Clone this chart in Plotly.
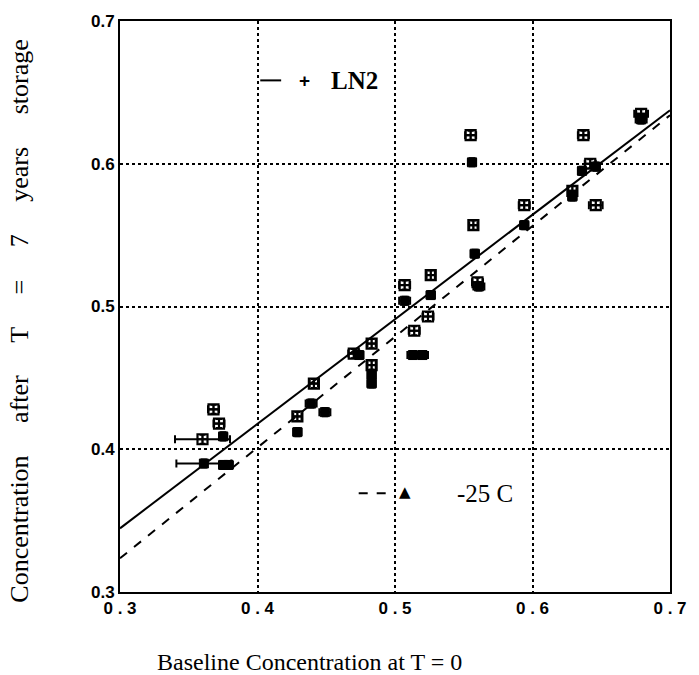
import plotly.graph_objects as go

# ---- data ----
ln2_x = [0.360, 0.368, 0.372, 0.429, 0.441, 0.470, 0.483, 0.483, 0.507, 0.526,
         0.524, 0.514, 0.555, 0.557, 0.560, 0.594, 0.629, 0.637, 0.642, 0.646, 0.679]
ln2_y = [0.407, 0.428, 0.418, 0.423, 0.446, 0.467, 0.474, 0.459, 0.515, 0.522,
         0.493, 0.483, 0.620, 0.557, 0.517, 0.571, 0.581, 0.620, 0.600, 0.571, 0.635]
ln2_xerr = [0.020, 0.004, 0.004, 0.003, 0.003, 0.004, 0.003, 0.003, 0.004, 0.003,
            0.004, 0.004, 0.004, 0.003, 0.004, 0.004, 0.003, 0.004, 0.004, 0.005, 0.005]

c25_x = [0.361, 0.375, 0.379, 0.375, 0.429, 0.439, 0.449, 0.474, 0.483, 0.483, 0.507,
         0.526, 0.513, 0.520, 0.556, 0.558, 0.561, 0.594, 0.629, 0.636, 0.646, 0.679]
c25_y = [0.390, 0.389, 0.389, 0.409, 0.412, 0.432, 0.426, 0.466, 0.452, 0.446, 0.504,
         0.508, 0.466, 0.466, 0.601, 0.537, 0.514, 0.557, 0.577, 0.595, 0.598, 0.631]
c25_xerr = [0.020, 0.003, 0.003, 0.003, 0.003, 0.004, 0.004, 0.003, 0.003, 0.003, 0.004,
            0.003, 0.004, 0.004, 0.003, 0.003, 0.004, 0.003, 0.003, 0.003, 0.003, 0.004]

fit_x = [0.3, 0.7]
ln2_fit_y = [0.3446, 0.6375]
c25_fit_y = [0.3236, 0.6340]

x_ticks = [0.3, 0.4, 0.5, 0.6, 0.7]
x_ticklabels = ["0 . 3", "0 . 4", "0 . 5", "0 . 6", "0 . 7"]
y_ticks = [0.3, 0.4, 0.5, 0.6, 0.7]
y_ticklabels = ["0.3", "0.4", "0.5", "0.6", "0.7"]

fig = go.Figure()

fig.add_trace(go.Scatter(x=fit_x, y=ln2_fit_y, mode="lines",
                         line=dict(color="black", width=2), showlegend=False))
fig.add_trace(go.Scatter(x=fit_x, y=c25_fit_y, mode="lines",
                         line=dict(color="black", width=2, dash="dash"), showlegend=False))

fig.add_trace(go.Scatter(
    x=ln2_x, y=ln2_y, mode="markers", showlegend=False,
    marker=dict(symbol="square-cross-open", size=10, color="black", line=dict(width=2.2, color="black")),
    error_x=dict(type="data", array=ln2_xerr, color="black", thickness=2, width=4),
    error_y=dict(type="constant", value=0.003, color="black", thickness=1.5, width=3),
))
fig.add_trace(go.Scatter(
    x=c25_x, y=c25_y, mode="markers", showlegend=False,
    marker=dict(symbol="square", size=9, color="black", line=dict(width=1, color="black")),
    error_x=dict(type="data", array=c25_xerr, color="black", thickness=2, width=4),
    error_y=dict(type="constant", value=0.003, color="black", thickness=1.5, width=3),
))

# legend keys drawn as shapes / annotations (positions in paper coords)
fig.add_shape(type="line", xref="paper", yref="paper", x0=0.255, x1=0.293, y0=0.896, y1=0.896,
              line=dict(color="black", width=2))
fig.add_shape(type="line", xref="paper", yref="paper", x0=0.434, x1=0.492, y0=0.173, y1=0.173,
              line=dict(color="black", width=2, dash="dash"))
ann = dict(xref="paper", yref="paper", showarrow=False, xanchor="center", yanchor="middle")
fig.add_annotation(**ann, x=0.336, y=0.896, text="<b>+</b>",
                   font=dict(family="Liberation Sans", size=19, color="black"))
fig.add_annotation(**ann, x=0.427, y=0.896, text="<b>LN2</b>",
                   font=dict(family="Liberation Serif", size=25, color="black"))
fig.add_annotation(**ann, x=0.519, y=0.176, text="▲",
                   font=dict(family="DejaVu Sans", size=15, color="black"))
fig.add_annotation(**ann, x=0.664, y=0.173, text="-25 C",
                   font=dict(family="Liberation Serif", size=25, color="black"))

# axis titles
fig.add_annotation(**ann, x=0.345, y=-0.123, text="Baseline Concentration at T = 0",
                   font=dict(family="Liberation Serif", size=24, color="black"))
sp = "\u00a0" * 5
fig.add_annotation(**ann, x=-0.182, y=0.475, textangle=-90,
                   text=sp.join(["Concentration", "after", "T", "=", "7", "years", "storage"]),
                   font=dict(family="Liberation Serif", size=26, color="black"))

axis_common = dict(range=[0.3, 0.7], showgrid=True, gridcolor="black", gridwidth=1.5, griddash="dot",
                   showline=True, linecolor="black", linewidth=2, mirror=True, zeroline=False,
                   ticks="", tickcolor="black")

fig.update_xaxes(**axis_common, tickvals=x_ticks, ticktext=x_ticklabels,
                 tickfont=dict(family="Liberation Sans", size=17, color="black", weight="bold"))
fig.update_yaxes(**axis_common, tickvals=y_ticks, ticktext=y_ticklabels,
                 tickfont=dict(family="Liberation Sans", size=17, color="black", weight="bold"))

fig.update_layout(width=699, height=675, plot_bgcolor="white", paper_bgcolor="white",
                  margin=dict(l=120, r=22, t=15, b=83), showlegend=False)

fig.write_html("out.html")
